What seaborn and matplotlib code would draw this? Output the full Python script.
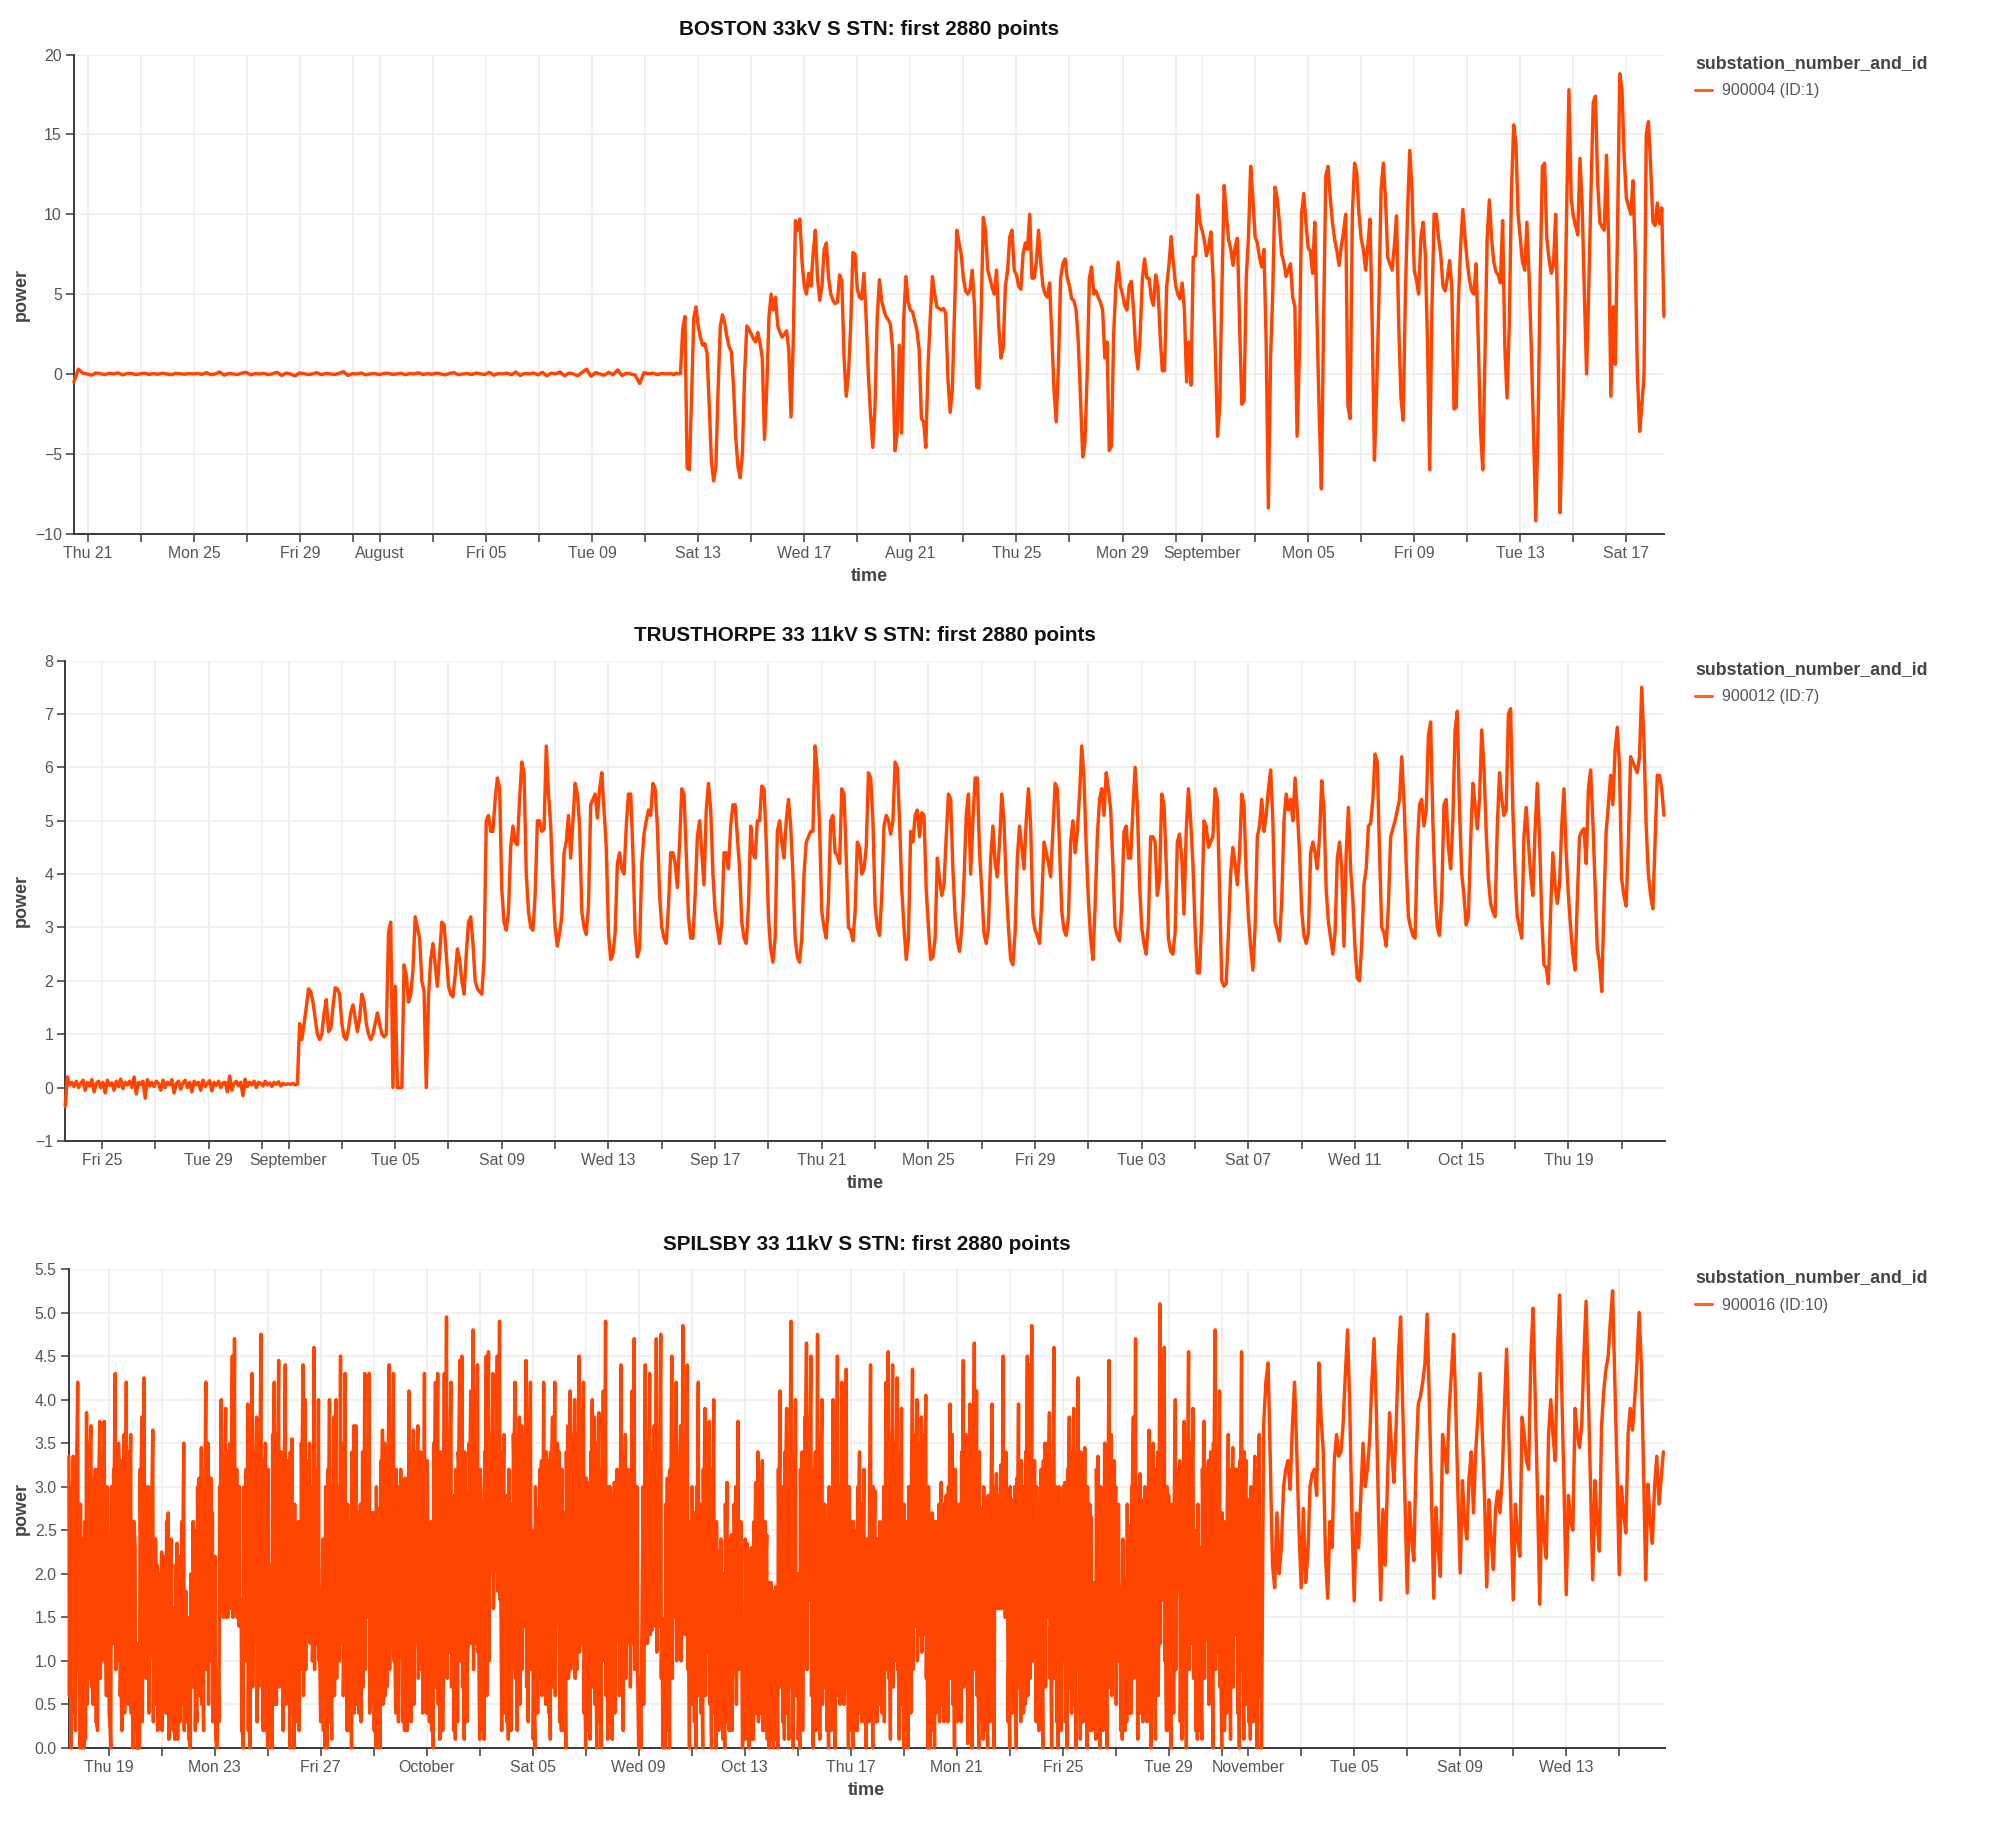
import matplotlib
matplotlib.use("Agg")
import matplotlib.pyplot as plt
import matplotlib.dates as mdates
import pandas as pd
import seaborn as sns

# Half-hourly substation power, thinned: the quiet lead-in of each station every few
# hours, then twelve two-hourly readings per calendar day.
boston_idle = [
    -0.5,0.3,0.05,0.0,-0.08,0.06,0.02,-0.05,0.04,0.0,0.07,-0.06,0.02,0.03,-0.04,
    0.0,0.05,-0.03,0.02,-0.02,0.04,0.0,-0.05,0.03,0.01,-0.02,0.02,0.0,0.03,-0.03,
    0.08,-0.05,0.0,0.12,-0.08,0.03,0.0,-0.04,0.05,0.1,-0.06,0.02,0.0,0.04,-0.05,
    0.02,0.1,-0.1,0.05,0.0,-0.12,0.06,0.02,-0.04,0.0,0.08,-0.05,0.03,0.0,-0.03,
    0.04,0.14,-0.1,0.02,0.0,0.06,-0.06,0.0,0.03,-0.04,0.02,0.05,-0.03,0.0,0.04,
    -0.05,0.02,0.0,0.07,-0.04,0.02,-0.02,0.05,0.0,-0.06,0.03,0.08,-0.05,0.0,0.03,
    -0.04,0.06,0.0,-0.03,0.1,-0.08,0.02,0.0,0.05,-0.05,0.12,-0.1,0.03,0.0,0.06,
    -0.06,0.1,-0.12,0.05,0.0,0.12,-0.12,0.05,0.0,-0.12,0.1,0.3,-0.15,0.08,0.0,-0.08,
    0.1,-0.05,0.25,-0.1,0.05,0.0,-0.08,-0.6,0.08,0.0,0.05,-0.05,0.03,0.0,0.02,
]
boston_days = [
    0.02,-0.05,0.05,0.0,0.02,2.8,3.6,-5.9,-6.0,-1.5,3.5,4.2,
    3.0,2.3,1.8,1.9,1.3,-2.0,-5.5,-6.7,-5.8,-1.0,3.0,3.7,
    3.2,2.3,1.7,1.4,-0.8,-4.0,-5.8,-6.5,-5.0,0.0,3.0,2.8,
    2.5,2.2,2.0,2.6,1.9,1.0,-4.1,-1.0,3.5,5.0,4.0,4.8,
    3.0,2.6,2.3,2.5,2.7,1.5,-2.7,2.0,9.6,9.0,9.7,7.0,
    5.5,5.0,6.3,5.5,7.5,9.0,6.0,4.6,5.5,7.8,8.2,6.0,
    5.0,4.6,4.4,4.5,6.2,5.8,1.0,-1.4,0.0,3.0,7.6,7.5,
    5.3,4.8,4.7,6.3,3.5,0.0,-2.6,-4.6,-2.0,3.5,5.9,4.6,
    4.0,3.6,3.4,3.1,1.5,-4.8,-3.8,1.8,-3.7,3.5,6.1,4.5,
    4.0,3.9,3.3,2.7,1.5,-2.8,-3.0,-4.6,0.5,3.5,6.1,5.0,
    4.2,4.1,4.0,4.1,3.8,-0.3,-2.4,-1.0,4.0,9.0,8.2,7.5,
    6.0,5.2,5.0,5.3,6.5,4.3,-0.8,-0.9,3.5,9.8,9.0,6.5,
    6.0,5.4,5.0,6.5,3.0,1.0,1.6,5.5,6.5,8.6,9.0,6.5,
    6.2,5.5,5.3,7.5,8.2,7.8,10.0,6.0,6.0,7.0,9.0,7.0,
    5.5,5.0,4.8,5.7,2.5,-1.0,-3.0,0.5,6.0,6.9,7.2,6.0,
    5.5,4.7,4.6,4.0,2.0,-1.5,-5.2,-4.3,0.0,6.0,6.7,5.0,
    5.2,4.8,4.5,4.0,1.0,2.0,-4.8,-4.5,2.5,5.5,7.0,5.5,
    5.0,4.3,4.0,5.5,5.8,4.0,1.5,0.3,2.5,6.0,7.2,6.0,
    6.0,4.8,4.3,6.2,5.5,2.5,0.2,0.2,5.5,6.8,8.6,7.0,
    5.6,5.0,4.7,5.7,4.0,-0.5,2.0,-0.7,7.3,7.4,11.2,9.5,
    9.0,8.4,7.4,8.0,8.9,6.0,1.5,-3.9,-2.0,5.5,11.8,10.0,
    8.4,7.8,6.8,8.0,8.5,3.0,-1.9,-1.7,6.0,8.6,13.0,11.0,
    8.6,8.2,7.3,6.7,7.8,2.0,-8.4,1.0,5.2,11.7,11.0,9.5,
    7.5,7.0,6.1,6.5,6.9,4.8,4.2,-3.9,1.0,10.0,11.3,9.5,
    7.9,7.7,6.3,9.5,3.5,-2.5,-7.2,3.4,12.4,13.0,11.0,9.5,
    8.4,7.7,6.8,8.0,8.9,10.0,-2.0,-2.8,10.0,13.2,12.6,10.0,
    8.5,7.8,6.5,8.0,9.7,3.0,-5.4,-1.0,4.5,11.5,13.2,11.0,
    7.3,6.9,6.5,8.0,9.9,3.0,-1.5,-2.9,5.0,10.2,14.0,11.5,
    6.5,5.9,5.0,8.5,9.5,7.5,2.0,-6.0,4.0,10.0,10.0,8.5,
    7.5,5.5,5.2,6.0,7.1,5.5,-2.2,-2.1,4.5,8.0,10.3,8.5,
    7.0,5.9,5.2,5.0,6.9,2.0,-3.5,-6.0,1.0,8.5,10.9,8.5,
    7.0,6.4,6.2,5.7,9.6,1.7,-1.5,3.0,11.5,15.6,14.5,10.0,
    8.5,7.0,6.5,9.5,6.0,1.5,-3.7,-9.2,-3.5,6.0,13.0,13.2,
    8.5,7.2,6.3,6.8,10.0,3.0,-8.7,-3.5,2.0,10.5,17.8,11.0,
    9.9,9.3,8.7,13.5,10.5,5.0,0.0,5.5,11.5,17.0,17.4,12.0,
    9.5,9.2,9.0,13.7,8.0,-1.4,4.2,0.6,9.0,18.8,17.8,13.6,
    11.0,10.5,10.0,12.1,7.5,0.0,-3.6,-2.0,0.0,15.0,15.8,13.0,
    9.5,9.3,10.7,9.4,10.4,3.6,
]
trusthorpe_idle = [
    -0.35,0.2,0.05,0.1,0.02,0.12,0.0,0.08,0.14,-0.05,
    0.1,0.03,0.15,-0.08,0.08,0.12,0.0,0.1,-0.1,0.14,
    0.04,0.09,-0.05,0.12,0.02,0.16,-0.02,0.1,0.05,0.12,
    0.0,0.2,-0.12,0.1,0.06,0.12,-0.2,0.15,0.03,0.1,
    0.02,0.12,0.08,-0.05,0.14,0.0,0.1,0.05,0.15,-0.1,
    0.08,0.12,-0.03,0.09,0.14,0.0,0.1,-0.08,0.12,0.05,
    0.1,-0.05,0.14,0.02,0.08,0.13,-0.06,0.1,0.04,0.12,
    0.0,0.09,0.1,-0.08,0.22,-0.05,0.08,0.12,0.03,0.1,
    -0.15,0.16,0.02,0.1,0.05,0.12,0.0,0.1,0.08,0.03,
    0.12,0.05,0.09,0.02,0.1,0.06,0.11,0.03,0.08,0.06,
]
trusthorpe_days = [
    0.07,0.06,0.08,0.05,0.07,1.2,0.9,1.2,1.5,1.85,1.8,1.6,
    1.3,1.0,0.9,1.0,1.4,1.65,1.05,1.1,1.5,1.87,1.85,1.75,
    1.2,0.95,0.9,1.1,1.4,1.55,1.3,1.05,1.3,1.75,1.6,1.2,
    1.0,0.9,1.0,1.2,1.4,1.2,1.0,0.95,1.0,2.9,3.1,0.0,
    1.9,0.0,0.0,0.0,2.3,2.1,1.6,1.75,2.2,3.2,3.0,2.8,
    2.0,1.8,0.0,1.7,2.4,2.7,2.3,1.9,2.5,3.1,3.05,2.5,
    1.9,1.75,1.7,2.1,2.6,2.4,2.0,1.75,2.5,3.1,3.2,2.7,
    2.0,1.85,1.8,1.75,2.4,5.0,5.1,4.8,4.8,5.4,5.8,5.6,
    3.7,3.1,2.95,3.3,4.5,4.9,4.6,4.55,5.4,6.1,5.9,4.0,
    3.3,3.0,2.95,3.6,5.0,5.0,4.8,4.85,6.4,5.5,4.9,3.8,
    3.0,2.65,2.9,3.2,4.4,4.6,5.1,4.3,5.0,5.7,5.5,4.9,
    3.3,3.0,2.87,3.4,5.3,5.4,5.5,5.05,5.6,5.9,5.2,4.5,
    2.9,2.4,2.5,2.9,4.2,4.4,4.1,4.0,4.9,5.5,5.5,4.4,
    2.9,2.45,2.6,4.2,4.75,5.0,5.2,5.1,5.7,5.6,4.9,3.6,
    3.0,2.8,2.7,3.4,4.4,4.4,4.2,3.75,4.6,5.6,5.5,4.4,
    3.2,2.8,2.8,3.6,4.7,5.0,4.4,3.8,5.2,5.7,5.2,4.0,
    3.3,3.0,2.7,3.1,4.4,4.4,4.1,4.9,5.3,5.3,4.7,4.1,
    3.1,2.8,2.7,3.4,4.9,4.4,4.3,5.0,5.0,5.65,5.6,4.6,
    3.2,2.6,2.35,2.8,4.8,5.0,4.6,4.3,5.0,5.4,4.9,4.0,
    2.8,2.45,2.35,2.8,4.0,4.6,4.7,4.8,4.8,6.4,5.9,4.9,
    3.3,3.0,2.8,3.5,5.0,5.1,4.4,4.35,4.2,5.6,5.5,4.3,
    3.0,2.95,2.75,3.3,4.6,4.5,4.0,4.1,4.5,5.9,5.8,5.0,
    3.4,3.0,2.85,3.6,4.9,5.1,5.0,4.75,5.0,6.1,6.0,5.0,
    3.7,3.0,2.4,2.8,4.8,4.6,5.1,5.2,4.7,5.15,5.1,3.7,
    3.0,2.4,2.45,2.8,4.3,3.9,3.6,3.8,4.7,5.5,5.4,4.1,
    3.2,2.75,2.55,3.0,3.9,5.1,5.5,4.0,5.0,5.8,5.8,4.4,
    3.7,2.9,2.7,3.0,4.3,4.9,4.2,3.95,4.6,5.5,5.0,3.8,
    3.0,2.4,2.3,2.9,4.3,4.9,4.5,4.1,5.0,5.6,4.9,3.2,
    2.95,2.85,2.7,3.5,4.6,4.4,4.2,3.95,4.8,5.7,5.6,4.5,
    3.3,2.95,2.85,3.2,4.6,5.0,4.4,4.8,5.5,6.4,5.8,4.5,
    3.5,2.8,2.4,3.4,4.7,5.4,5.6,5.1,5.9,5.6,5.2,4.2,
    3.0,2.85,2.75,3.4,4.8,4.9,4.3,4.3,5.2,6.0,5.3,3.8,
    3.0,2.7,2.5,3.1,4.7,4.7,4.6,3.6,3.9,5.5,5.3,4.2,
    2.8,2.55,2.5,2.9,4.6,4.75,4.3,3.25,4.8,5.6,5.0,4.2,
    3.0,2.15,2.15,3.2,5.0,4.9,4.5,4.6,4.7,5.6,5.4,3.7,
    2.0,1.9,1.95,2.9,4.0,4.5,4.2,3.8,4.4,5.5,5.3,4.0,
    3.2,2.65,2.2,3.0,4.7,4.9,5.4,4.8,5.1,5.6,5.95,5.0,
    3.1,2.95,2.75,3.5,5.0,5.5,5.2,5.4,5.0,5.8,5.2,4.4,
    3.3,2.85,2.7,2.9,4.4,4.6,4.4,4.1,4.7,5.75,5.2,3.7,
    3.1,2.8,2.5,2.9,4.3,4.6,4.1,2.65,4.4,5.25,4.1,3.5,
    2.6,2.05,2.0,2.7,3.8,4.1,4.9,4.95,5.4,6.25,6.1,4.4,
    3.0,2.9,2.65,3.4,4.7,4.85,5.0,5.2,5.4,6.2,5.4,4.2,
    3.2,3.0,2.85,2.8,4.5,5.3,5.4,4.9,5.2,6.6,6.85,5.0,
    3.7,3.0,2.85,3.6,5.3,5.4,4.5,4.1,5.0,6.7,7.05,5.2,
    4.0,3.6,3.05,3.2,4.6,5.7,5.3,4.85,5.4,6.7,6.0,4.8,
    3.9,3.45,3.3,3.2,4.9,5.9,5.4,5.1,5.2,7.0,7.1,5.2,
    4.0,3.2,3.0,2.8,4.7,5.25,4.6,4.0,3.6,4.8,5.7,4.7,
    3.2,2.3,2.25,1.95,3.3,4.4,3.8,3.45,3.8,4.9,5.6,4.4,
    3.6,3.0,2.5,2.2,3.5,4.7,4.8,4.85,4.2,5.6,5.95,5.0,
    3.8,2.6,2.35,1.8,3.4,4.8,5.3,5.85,5.3,6.3,6.75,6.0,
    3.9,3.6,3.4,4.6,6.2,6.1,6.0,5.9,6.2,7.5,6.5,4.9,
    4.0,3.6,3.35,4.6,5.85,5.85,5.6,5.1,
]
spilsby_days = [
    3.35,0.0,3.35,0.2,4.2,0.0,
    0.0,0.0,3.85,0.8,3.7,0.5,3.2,0.2,3.75,1.0,3.75,0.6,
    1.5,0.0,1.2,4.3,1.0,3.2,0.2,3.6,4.2,0.5,3.6,0.0,
    2.3,0.0,0.0,3.8,4.25,0.8,3.0,1.2,3.65,0.5,2.1,0.3,
    2.25,0.9,0.4,2.7,0.3,1.6,0.1,2.35,2.2,0.5,3.5,1.8,
    1.5,0.0,0.7,2.5,0.3,3.1,3.45,0.2,4.2,3.5,1.0,2.7,
    0.6,0.0,0.3,4.0,1.5,3.9,1.5,3.5,4.5,4.7,3.2,1.4,
    1.7,0.0,1.5,3.95,0.0,4.3,1.2,3.8,0.7,4.75,0.2,3.5,
    0.0,2.1,0.0,4.2,0.5,4.45,1.0,0.2,4.4,0.6,0.0,3.55,
    0.0,1.6,2.6,0.9,4.4,4.0,3.3,3.5,3.0,4.6,3.2,4.0,
    0.3,2.4,0.0,0.0,4.0,0.1,3.8,4.0,3.0,4.5,3.5,4.3,
    0.2,2.6,0.0,3.7,3.7,2.7,2.8,3.4,4.3,1.5,4.3,0.5,
    2.7,0.0,2.75,0.0,3.65,3.5,0.7,4.4,1.2,4.3,0.4,3.0,
    1.4,2.5,0.2,2.6,4.1,0.3,3.65,1.5,3.7,0.9,2.9,4.3,
    0.4,2.4,2.6,0.0,4.2,4.3,0.1,2.5,4.3,4.95,1.1,4.2,
    2.9,0.1,0.3,4.45,4.5,0.1,2.8,1.3,4.1,4.8,1.2,4.4,
    0.1,2.4,0.1,4.5,4.55,2.0,4.3,2.1,4.5,4.9,0.2,3.6,
    2.9,0.1,2.8,0.9,4.2,0.2,3.8,3.7,1.4,4.45,0.3,4.2,
    2.5,0.0,2.75,1.4,3.3,4.2,0.5,3.3,0.1,3.8,4.2,2.0,
    3.4,0.2,2.7,0.0,3.7,4.1,1.0,4.0,0.9,4.5,1.2,4.2,
    0.0,3.05,0.1,4.0,3.8,0.0,3.85,0.0,4.1,4.9,0.1,3.0,
    0.1,3.05,1.4,2.8,4.4,0.2,3.6,1.2,3.0,4.1,4.7,1.4,
    0.0,0.0,3.0,4.4,1.2,4.3,1.35,3.7,4.7,1.4,4.75,0.0,
    0.0,3.1,0.0,4.5,1.5,4.2,2.5,3.7,4.85,1.3,4.4,0.0,
    0.5,2.7,0.0,4.2,2.8,0.0,3.9,1.1,3.75,0.0,4.0,0.0,
    2.25,0.3,2.0,0.0,3.05,0.2,2.45,1.0,3.0,3.75,1.0,0.0,
    0.1,2.35,0.0,2.3,0.1,3.05,3.4,0.4,3.3,0.2,2.45,0.0,
    1.9,0.0,1.85,0.0,4.1,3.0,0.1,3.9,0.1,4.9,0.0,4.0,
    2.0,0.0,3.4,1.0,4.65,1.7,4.5,0.0,3.4,4.75,0.1,4.0,
    0.7,2.5,0.0,2.2,4.0,0.0,4.5,3.0,4.2,0.5,4.35,0.0,
    2.6,0.0,2.5,0.2,3.4,0.3,3.2,0.0,1.5,4.4,0.0,2.95,
    0.3,0.5,2.5,3.0,4.2,4.55,0.1,4.4,1.0,4.25,0.1,3.9,
    0.0,2.6,0.0,1.5,4.35,1.4,4.0,1.3,3.8,1.3,4.05,0.0,
    0.0,2.7,0.0,1.0,2.8,3.05,2.8,1.4,0.3,3.95,3.6,0.0,
    2.4,2.8,0.3,4.45,2.0,0.05,3.95,0.0,4.65,4.1,0.0,2.75,
    0.1,2.5,0.0,1.5,3.95,0.0,3.15,1.6,3.25,4.5,1.5,2.95,
    0.0,2.85,1.3,0.0,3.95,0.3,3.0,0.5,4.5,4.4,4.85,1.0,
    0.3,2.6,0.5,0.0,3.5,1.5,3.85,0.0,4.6,3.0,0.0,2.5,
    1.7,3.05,0.0,3.8,0.4,3.9,0.0,4.25,0.1,3.0,3.45,0.0,
    0.2,2.65,1.9,0.1,3.35,0.0,1.5,3.5,0.0,4.45,3.6,1.0,
    3.0,1.0,1.7,0.1,1.95,0.3,2.55,0.4,3.8,4.7,0.1,3.15,
    2.85,0.4,1.7,3.65,0.0,3.5,0.1,3.4,5.1,1.7,4.6,0.2,
    2.9,0.0,1.8,4.0,1.8,3.3,0.1,3.75,0.0,4.55,1.2,3.9,
    2.5,0.1,2.3,0.1,3.75,1.25,3.3,3.4,0.0,4.8,1.1,4.1,
    0.0,2.6,1.9,3.6,0.1,3.45,1.3,3.2,0.0,4.55,0.1,3.3,
    2.85,0.1,1.8,3.35,0.0,3.6,0.0,3.7,4.2,4.42,3.3,2.1,
    1.84,2.7,2.0,2.3,3.0,3.2,3.3,2.97,3.7,4.2,3.4,2.5,
    1.84,2.75,1.9,2.2,3.0,3.15,3.2,2.9,4.42,3.8,3.4,2.2,
    1.72,2.6,2.3,3.3,3.6,3.35,3.4,3.73,4.3,4.8,3.9,2.6,
    1.69,2.7,2.3,2.9,3.5,3.0,3.2,3.55,4.2,4.7,3.9,2.7,
    1.7,2.74,2.1,3.0,3.85,3.4,3.05,3.7,4.5,4.95,3.9,2.8,
    1.78,2.82,2.4,2.15,3.3,3.95,4.04,4.2,4.4,4.98,4.0,2.9,
    1.72,2.76,2.3,1.97,3.6,3.4,3.16,3.9,4.3,4.75,3.9,2.9,
    2.01,3.07,2.6,2.4,3.1,3.4,2.7,3.4,3.8,4.3,3.6,2.9,
    1.85,2.85,2.4,2.05,2.75,2.95,2.7,3.1,3.9,4.58,3.6,2.7,
    1.7,2.8,2.4,2.2,3.8,3.6,3.3,3.2,4.5,5.05,4.0,2.9,
    1.65,2.89,2.4,2.18,3.6,4.0,3.6,3.3,4.5,5.2,4.1,3.0,
    1.76,2.9,2.6,2.5,3.9,3.6,3.45,3.7,4.5,5.13,4.1,3.0,
    1.93,3.07,2.6,2.26,3.7,4.1,4.35,4.5,4.9,5.25,4.2,3.2,
    1.99,3.0,2.7,2.47,3.6,3.9,3.65,4.0,4.4,5.0,4.4,3.2,
    1.93,3.03,2.6,2.35,3.0,3.35,2.8,3.1,3.4,
]
# Spilsby's fluctuating weeks also carry the readings at the half and odd hours.
spilsby_half_hours = [
    0.6,3.0,0.4,3.1,0.9,2.8,
    1.0,2.6,0.5,3.0,0.7,3.1,0.3,3.2,0.8,3.1,1.1,3.0,
    0.4,3.0,3.2,0.9,3.4,0.6,3.3,0.4,1.1,3.4,0.4,2.6,
    0.2,1.2,3.2,0.3,1.0,3.0,0.4,2.9,0.3,2.4,0.2,2.0,
    0.2,2.2,2.6,0.1,2.4,0.2,2.1,0.1,0.3,2.6,0.2,0.3,
    0.1,2.0,2.6,0.2,3.0,0.6,0.5,3.2,0.9,0.5,3.1,0.3,
    2.2,0.1,3.0,1.6,3.3,1.5,3.4,1.6,1.5,1.8,1.5,3.0,
    0.2,3.0,3.2,0.2,3.4,0.7,3.4,0.3,3.6,0.8,3.3,0.2,
    3.2,0.1,3.6,0.5,3.6,0.7,3.4,3.3,0.5,3.3,3.4,0.4,
    2.8,0.3,0.2,3.5,0.6,0.9,1.4,1.2,1.0,0.9,1.2,1.0,
    1.8,0.2,3.0,3.2,0.3,3.0,0.6,0.8,1.0,1.2,0.6,0.9,
    2.8,0.2,3.4,0.4,0.5,0.4,0.3,0.7,0.9,3.2,0.4,2.7,
    0.2,3.0,0.3,3.3,0.5,0.6,3.4,0.9,3.6,1.0,3.2,0.3,
    3.2,0.3,3.1,0.2,0.6,3.4,0.5,3.4,0.8,3.4,0.4,0.9,
    3.3,0.3,0.2,3.5,0.7,0.5,3.4,0.2,1.0,0.8,3.5,0.7,
    0.2,3.2,3.4,1.0,0.7,3.4,0.3,3.5,1.2,0.9,3.8,1.1,
    3.2,0.2,3.4,0.6,1.0,3.6,1.6,3.6,1.8,1.7,3.4,0.4,
    0.3,3.2,0.2,3.6,0.8,3.6,0.5,0.9,3.4,0.7,3.6,0.9,
    0.1,3.0,0.4,3.2,0.6,1.0,3.4,0.4,3.4,0.7,0.6,3.5,
    0.3,3.2,0.2,3.4,0.8,0.9,3.6,0.8,3.6,1.1,3.8,0.4,
    3.1,0.2,3.4,0.7,0.5,3.5,0.3,3.2,1.0,0.6,3.0,0.3,
    2.9,0.4,3.2,0.6,1.0,3.4,0.8,3.2,0.7,1.2,0.9,3.0,
    0.3,0.9,0.5,1.2,3.5,1.3,3.4,1.4,1.1,3.5,0.8,0.2,
    2.8,0.2,3.2,0.8,3.6,1.0,1.2,1.0,1.5,3.4,0.9,2.6,
    3.0,0.3,3.0,0.6,0.4,3.2,0.6,3.4,0.5,3.2,0.4,2.6,
    0.2,2.4,0.1,2.8,0.3,2.4,0.2,2.8,0.5,0.9,2.6,0.2,
    2.4,0.1,2.2,0.1,2.6,0.4,0.3,2.9,0.2,2.6,0.1,1.9,
    0.1,1.8,0.1,3.2,0.7,0.3,3.4,0.4,3.6,0.7,3.4,0.6,
    0.1,3.2,0.2,3.8,0.9,3.8,0.6,3.2,0.2,1.0,3.6,0.5,
    2.8,0.2,3.0,0.2,0.5,3.4,0.6,0.5,0.9,3.6,0.7,3.0,
    0.2,2.6,0.2,3.0,0.4,2.8,0.3,2.4,0.3,0.8,3.0,0.3,
    2.4,2.6,0.4,0.3,0.9,0.8,3.6,0.7,3.5,0.9,3.4,0.5,
    2.8,0.2,3.0,0.4,0.9,3.6,1.0,3.5,1.1,3.6,0.8,3.0,
    2.6,0.2,2.6,2.6,0.3,0.5,0.3,2.9,3.0,0.8,0.5,3.2,
    0.3,0.4,3.4,0.7,3.6,3.4,0.5,3.4,0.9,0.6,3.4,0.3,
    3.0,0.2,2.9,0.3,1.6,3.0,1.6,2.9,1.6,1.7,3.4,0.3,
    3.0,0.4,3.0,3.1,0.7,3.3,0.4,3.4,0.6,0.8,1.0,3.3,
    3.0,0.2,3.2,3.3,0.7,3.5,0.8,3.3,0.8,0.3,3.0,0.2,
    3.0,0.3,3.2,0.7,3.4,0.5,3.4,0.9,3.4,0.3,0.4,3.0,
    2.8,0.2,0.3,3.2,0.3,3.0,0.2,0.6,3.2,0.7,0.6,3.3,
    0.5,2.8,0.2,2.4,0.2,2.8,0.4,3.0,0.8,1.2,3.0,0.4,
    0.3,3.0,0.3,0.7,3.2,0.5,3.2,0.6,1.2,3.8,1.0,3.0,
    0.2,2.8,0.4,0.9,3.2,0.3,3.2,0.4,3.5,0.9,3.5,0.8,
    0.2,2.8,0.2,3.2,0.8,3.2,0.5,0.6,3.5,0.9,3.4,0.7,
    2.7,0.2,0.4,0.6,3.2,0.7,3.2,0.4,3.3,0.9,3.4,0.5,
    0.3,3.0,0.3,0.7,3.2,0.6,
]
spilsby_odd_hours = [
    1.8,2.9,1.2,3.2,1.5,2.2,
    2.4,0.1,1.6,3.4,1.2,2.9,0.3,3.0,2.0,3.2,1.5,2.8,
    0.3,2.4,3.0,1.5,3.5,1.0,2.8,1.0,1.5,3.0,1.2,2.6,
    0.8,0.0,2.5,1.2,2.2,2.6,1.0,2.8,1.2,1.6,0.9,1.8,
    0.7,1.8,2.1,0.8,1.4,0.4,1.7,0.6,0.9,1.9,0.9,0.6,
    0.2,1.2,1.9,0.6,2.2,1.4,1.0,2.6,1.5,2.4,2.2,1.0,
    0.1,0.9,2.5,1.6,3.2,1.9,3.3,2.4,1.8,1.6,3.0,1.5,
    0.2,2.6,1.0,2.0,3.0,1.8,3.2,1.5,3.3,1.6,2.8,1.0,
    1.0,1.5,2.8,1.8,3.2,1.6,2.4,3.0,1.4,2.5,2.0,1.2,
    1.0,0.6,1.8,3.0,2.0,2.9,1.3,2.3,1.2,2.5,1.4,1.2,
    1.2,0.8,2.0,1.8,1.0,2.6,1.2,2.2,1.0,2.4,0.9,1.6,
    1.8,1.0,2.2,1.8,1.0,1.6,0.8,2.0,2.5,3.0,2.0,2.4,
    0.8,1.9,0.9,2.5,1.2,2.4,3.0,1.5,3.2,1.4,2.6,1.0,
    2.9,0.8,2.2,1.0,1.6,2.9,1.1,3.0,1.2,3.2,1.0,1.4,
    2.6,0.7,1.2,2.9,1.4,2.2,2.0,0.9,2.8,1.6,3.4,1.3,
    1.0,2.2,3.3,1.8,1.3,3.0,1.0,3.1,1.6,2.4,3.6,1.4,
    3.0,0.9,2.8,1.6,2.2,3.0,2.0,3.2,2.1,2.2,3.0,1.0,
    0.9,2.6,1.1,3.2,1.5,3.3,1.4,1.9,3.0,1.5,3.4,1.4,
    0.7,2.4,1.0,2.7,1.7,2.2,3.0,1.0,3.1,1.5,1.3,3.0,
    1.0,2.3,1.2,2.6,1.5,2.4,3.2,1.4,3.3,1.7,3.5,1.0,
    2.4,0.9,2.9,1.5,1.8,3.0,1.0,2.8,1.4,2.2,2.6,1.0,
    2.2,1.2,2.6,1.6,2.0,3.0,1.5,2.5,1.2,1.8,2.5,0.9,
    0.8,1.4,1.6,2.0,3.2,1.8,3.0,1.5,2.6,3.2,1.5,1.0,
    1.5,1.0,2.6,1.6,3.3,1.6,3.2,1.6,2.4,3.0,1.6,2.0,
    1.6,0.9,2.4,1.4,1.2,2.4,1.2,3.0,1.2,2.6,1.0,2.0,
    0.6,1.7,0.5,2.2,1.0,1.8,0.8,2.2,1.2,1.8,1.9,1.3,
    1.6,0.6,1.6,0.5,2.2,1.2,1.4,2.5,0.8,2.0,0.7,1.4,
    0.5,1.2,0.4,2.5,1.5,1.0,3.0,1.0,3.2,1.4,2.8,1.5,
    0.5,2.4,1.4,3.4,2.0,3.4,1.5,2.4,1.6,1.8,3.2,1.4,
    2.0,0.8,1.2,1.5,1.5,3.0,1.6,1.9,1.6,3.2,1.6,2.0,
    0.6,1.8,0.8,2.4,1.0,2.2,1.2,0.9,2.9,1.4,2.4,1.0,
    1.0,1.6,1.4,2.0,1.8,1.6,3.0,1.8,3.0,1.3,2.8,1.2,
    1.8,0.8,0.8,3.0,2.2,3.0,2.0,2.8,1.7,3.0,1.4,1.5,
    1.6,0.8,0.4,2.2,1.6,1.8,1.0,2.4,2.2,1.5,1.6,1.8,
    1.0,0.9,2.6,2.8,3.2,2.4,1.0,3.0,1.5,1.4,2.4,0.8,
    1.6,0.7,0.9,2.8,1.5,2.2,2.4,2.5,1.8,3.0,2.6,0.9,
    2.0,2.4,0.8,2.4,1.3,2.3,1.2,2.9,2.0,1.6,2.8,1.6,
    1.6,1.0,1.4,2.6,2.4,3.0,1.4,2.6,1.3,1.1,1.9,0.9,
    1.0,1.3,2.7,1.4,3.0,1.3,3.1,1.5,2.2,1.5,1.0,1.5,
    1.8,1.2,1.0,2.6,1.2,2.2,0.9,1.8,3.0,1.5,1.7,2.5,
    1.9,1.9,0.6,1.4,0.8,1.7,1.0,2.9,1.6,2.2,2.5,1.1,
    1.0,2.4,1.4,1.9,2.8,1.4,2.6,1.4,2.8,3.6,1.4,2.4,
    1.0,1.4,2.8,2.6,2.9,1.2,2.7,1.2,3.2,1.4,3.0,1.4,
    0.8,1.6,0.8,2.8,2.4,2.6,1.4,1.8,3.2,2.2,3.0,1.3,
    1.4,0.9,2.8,1.5,2.6,2.4,2.6,1.2,3.0,1.4,2.8,1.1,
    1.0,1.3,2.8,1.3,2.7,1.4,
]

titles = ["BOSTON 33kV S STN: first 2880 points",
          "TRUSTHORPE 33 11kV S STN: first 2880 points",
          "SPILSBY 33 11kV S STN: first 2880 points"]
substations = ["900004 (ID:1)", "900012 (ID:7)", "900016 (ID:10)"]

boston_y_ticks = [-10, -5, 0, 5, 10, 15, 20]
trusthorpe_y_ticks = [-1, 0, 1, 2, 3, 4, 5, 6, 7, 8]
spilsby_y_ticks = [0.0, 0.5, 1.0, 1.5, 2.0, 2.5, 3.0, 3.5, 4.0, 4.5, 5.0, 5.5]

boston_x_labels = {
    "2022-07-21": "Thu 21", "2022-07-25": "Mon 25", "2022-07-29": "Fri 29", "2022-08-01": "August",
    "2022-08-05": "Fri 05", "2022-08-09": "Tue 09", "2022-08-13": "Sat 13", "2022-08-17": "Wed 17",
    "2022-08-21": "Aug 21", "2022-08-25": "Thu 25", "2022-08-29": "Mon 29", "2022-09-01": "September",
    "2022-09-05": "Mon 05", "2022-09-09": "Fri 09", "2022-09-13": "Tue 13", "2022-09-17": "Sat 17",
}
trusthorpe_x_labels = {
    "2023-08-25": "Fri 25", "2023-08-29": "Tue 29", "2023-09-01": "September", "2023-09-05": "Tue 05",
    "2023-09-09": "Sat 09", "2023-09-13": "Wed 13", "2023-09-17": "Sep 17", "2023-09-21": "Thu 21",
    "2023-09-25": "Mon 25", "2023-09-29": "Fri 29", "2023-10-03": "Tue 03", "2023-10-07": "Sat 07",
    "2023-10-11": "Wed 11", "2023-10-15": "Oct 15", "2023-10-19": "Thu 19",
}
spilsby_x_labels = {
    "2024-09-19": "Thu 19", "2024-09-23": "Mon 23", "2024-09-27": "Fri 27", "2024-10-01": "October",
    "2024-10-05": "Sat 05", "2024-10-09": "Wed 09", "2024-10-13": "Oct 13", "2024-10-17": "Thu 17",
    "2024-10-21": "Mon 21", "2024-10-25": "Fri 25", "2024-10-29": "Tue 29", "2024-11-01": "November",
    "2024-11-05": "Tue 05", "2024-11-09": "Sat 09", "2024-11-13": "Wed 13",
}

LINE = "#FF4500"
GRID = "#EEEEEE"
AXIS = "#3A3A3A"
LABEL = "#555555"
W, H = 1992, 1827

sns.set_style("white")
plt.rcParams["font.family"] = ["Liberation Sans", "DejaVu Sans"]


def frame(name, segments):
    # Each segment is (first timestamp, sampling step, readings).
    parts = [pd.DataFrame({"time": pd.date_range(start, periods=len(values), freq=step), "power": values})
             for start, step, values in segments]
    table = pd.concat(parts).sort_values("time").reset_index(drop=True)
    table["substation_number_and_id"] = name
    return table


panels = [
    dict(box=(73.7, 54.6, 1664.5, 533.6), xlim=("2022-07-20 10:50", "2022-09-18 10:30"),
         ylim=(-10, 20), yticks=boston_y_ticks, ylab=[str(v).replace("-", "\u2212") for v in boston_y_ticks],
         labels=boston_x_labels,
         df=frame(substations[0], [("2022-07-20 11:00", "4h", boston_idle),
                                   ("2022-08-12 00:00", "2h", boston_days)])),
    dict(box=(65.2, 660.6, 1664.5, 1141), xlim=("2023-08-23 15:00", "2023-10-22 14:30"),
         ylim=(-1, 8), yticks=trusthorpe_y_ticks, ylab=[str(v).replace("-", "\u2212") for v in trusthorpe_y_ticks],
         labels=trusthorpe_x_labels,
         df=frame(substations[1], [("2023-08-23 15:00", "2h", trusthorpe_idle),
                                   ("2023-09-01 00:00", "2h", trusthorpe_days)])),
    dict(box=(68.6, 1269, 1664.5, 1748), xlim=("2024-09-17 11:45", "2024-11-16 17:00"),
         ylim=(0, 5.5), yticks=spilsby_y_ticks, ylab=[f"{v:.1f}" for v in spilsby_y_ticks],
         labels=spilsby_x_labels,
         df=frame(substations[2], [("2024-09-17 12:00", "2h", spilsby_days),
                                   ("2024-09-17 12:30", "2h", spilsby_half_hours),
                                   ("2024-09-17 13:00", "2h", spilsby_odd_hours)])),
]

fig = plt.figure(figsize=(W / 100, H / 100), dpi=100, facecolor="white")

for panel, title in zip(panels, titles):
    x0, y0, x1, y1 = panel["box"]
    ax = fig.add_axes([x0 / W, 1 - y1 / H, (x1 - x0) / W, (y1 - y0) / H])
    sns.lineplot(data=panel["df"], x="time", y="power", hue="substation_number_and_id",
                 palette=[LINE], estimator=None, errorbar=None, sort=False,
                 linewidth=2.45, ax=ax, zorder=3, clip_on=False, legend="full")
    for line in ax.get_lines():
        line.set_solid_joinstyle("round")

    lo, hi = pd.Timestamp(panel["xlim"][0]), pd.Timestamp(panel["xlim"][1])
    ax.set_xlim(lo, hi)
    ax.set_ylim(*panel["ylim"])

    # A tick on every second calendar day, with every other one named.
    ticks = [mdates.num2date(t).replace(tzinfo=None)
             for t in mdates.DayLocator(bymonthday=range(1, 32, 2)).tick_values(lo, hi)]
    ticks = [t for t in ticks if lo <= t <= hi]
    ax.set_xticks(ticks)
    ax.set_xticklabels([panel["labels"].get(t.strftime("%Y-%m-%d"), "") for t in ticks])
    ax.set_yticks(panel["yticks"])
    ax.set_yticklabels(panel["ylab"])

    ax.grid(True, color=GRID, linewidth=1.25)
    ax.set_axisbelow(True)
    for side in ("top", "right"):
        ax.spines[side].set_visible(False)
    for side in ("left", "bottom"):
        ax.spines[side].set_color(AXIS)
        ax.spines[side].set_linewidth(1.4)
    ax.tick_params(axis="both", which="major", length=5.8, width=1.1, color=AXIS,
                   labelcolor=LABEL, labelsize=11.4, pad=2.8,
                   bottom=True, left=True)

    height = y1 - y0
    width = x1 - x0
    ax.set_title(title, fontsize=14.9, fontweight="bold", color="#111111",
                 y=1 + 25 / height, va="center", pad=0)
    ax.set_xlabel("time", fontsize=13, fontweight="bold", color="#444444")
    ax.xaxis.set_label_coords(0.5, -42.5 / height)
    ax.set_ylabel("power", fontsize=13, fontweight="bold", color="#444444")
    ax.yaxis.set_label_coords((21 - x0) / width, 0.5)
    ax.xaxis.label.set_va("center")
    ax.yaxis.label.set_va("center")

    legend = ax.legend(title="substation_number_and_id", frameon=False, loc="upper left",
                       bbox_to_anchor=(1695 / W, 1 - (y0 + 0.5) / H),
                       bbox_transform=fig.transFigure, alignment="left",
                       borderpad=0, borderaxespad=0, handlelength=1.05, handletextpad=0.64,
                       labelspacing=0.71, fontsize=11.4,
                       title_fontproperties={"weight": "bold", "size": 12.8})
    legend.get_title().set_color("#444444")
    legend.get_lines()[0].set_alpha(0.85)
    legend.get_lines()[0].set_linewidth(2.2)
    legend.get_texts()[0].set_color(LABEL)

fig.savefig("out.png", dpi=100, facecolor="white")
